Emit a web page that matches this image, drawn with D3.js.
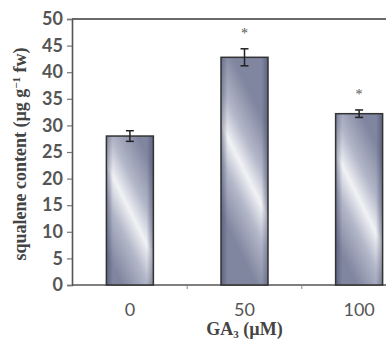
<!DOCTYPE html>
<html>
<head>
<meta charset="utf-8">
<script src="https://cdn.jsdelivr.net/npm/d3@7"></script>
<style>
  body { margin: 0; background: #fff; }
</style>
</head>
<body>
<div id="chart"></div>
<script>
var categories = ["0", "50", "100"]
var values = [28.0, 42.8, 32.2]
var errors = [1.0, 1.6, 0.7]
var marks = ["", "*", "*"]
var yTicks = [0, 5, 10, 15, 20, 25, 30, 35, 40, 45, 50]

var margin = { left: 72, top: 19 }
var plotWidth = 345
var plotHeight = 266

var svg = d3.select("#chart")
  .append("svg")
  .attr("width", 386)
  .attr("height", 339)

var defs = svg.append("defs")

// darker vertical edges
var edge = defs.append("linearGradient")
  .attr("id", "barEdge")
  .attr("x1", 0).attr("y1", 0)
  .attr("x2", 1).attr("y2", 0)
edge.append("stop").attr("offset", 0).attr("stop-color", "#3c4262").attr("stop-opacity", 0.5)
edge.append("stop").attr("offset", 0.14).attr("stop-color", "#3c4262").attr("stop-opacity", 0)
edge.append("stop").attr("offset", 0.86).attr("stop-color", "#3c4262").attr("stop-opacity", 0)
edge.append("stop").attr("offset", 1).attr("stop-color", "#3c4262").attr("stop-opacity", 0.5)

var g = svg.append("g")
  .attr("transform", "translate(" + margin.left + "," + margin.top + ")")

var x = d3.scaleBand()
  .domain(categories)
  .range([0, plotWidth])
  .paddingInner(0.59)
  .paddingOuter(0.3)

var y = d3.scaleLinear()
  .domain([0, 50])
  .range([plotHeight, 0])

// one diagonal gradient per bar: light streak from upper left to lower right
var nx = 1 / Math.sqrt(1.25), ny = -0.5 / Math.sqrt(1.25), L = 40
values.forEach(function(v, i) {
  var cx = x(categories[i]) + x.bandwidth() / 2
  var cy = (y(v) + plotHeight) / 2
  var gr = defs.append("linearGradient")
    .attr("id", "barFill" + i)
    .attr("gradientUnits", "userSpaceOnUse")
    .attr("x1", cx - nx * L).attr("y1", cy - ny * L)
    .attr("x2", cx + nx * L).attr("y2", cy + ny * L)
  gr.append("stop").attr("offset", 0).attr("stop-color", "#80869f")
  gr.append("stop").attr("offset", 0.3).attr("stop-color", "#b3b7c9")
  gr.append("stop").attr("offset", 0.5).attr("stop-color", "#f1f2f5")
  gr.append("stop").attr("offset", 0.7).attr("stop-color", "#b3b7c9")
  gr.append("stop").attr("offset", 1).attr("stop-color", "#80869f")
})

// top frame line
g.append("line")
  .attr("x1", 0).attr("x2", 400)
  .attr("y1", 0).attr("y2", 0)
  .attr("stroke", "#6a6a6a")
  .attr("stroke-width", 2)

// y axis
var yAxis = g.append("g")
  .call(d3.axisLeft(y).tickValues(yTicks).tickSize(5).tickPadding(4))
yAxis.select(".domain").attr("stroke", "#555").attr("stroke-width", 1.6)
yAxis.selectAll(".tick line").attr("stroke", "#777").attr("stroke-width", 1.2)
yAxis.selectAll("text")
  .attr("font-family", "Lato, 'Open Sans', sans-serif")
  .attr("font-weight", "bold")
  .attr("font-size", 18)
  .attr("fill", "#555")

// x axis line and ticks between categories
g.append("line")
  .attr("x1", 0).attr("x2", 400)
  .attr("y1", plotHeight).attr("y2", plotHeight)
  .attr("stroke", "#555")
  .attr("stroke-width", 1.6)
categories.slice(1).forEach(function(c) {
  var tx = x(c) - (x.step() - x.bandwidth()) / 2
  g.append("line")
    .attr("x1", tx).attr("x2", tx)
    .attr("y1", plotHeight).attr("y2", plotHeight + 4)
    .attr("stroke", "#888")
    .attr("stroke-width", 1)
})

g.selectAll(".xlab")
  .data(categories)
  .enter()
  .append("text")
  .attr("x", function(d) { return x(d) + x.bandwidth() / 2 })
  .attr("y", 297)
  .attr("text-anchor", "middle")
  .attr("font-family", "Lato, 'Open Sans', sans-serif")
  .attr("font-size", 18)
  .attr("fill", "#555")
  .text(function(d) { return d })

// bars
var bars = g.selectAll(".bar")
  .data(values)
  .enter()
  .append("g")
bars.append("rect")
  .attr("x", function(d, i) { return x(categories[i]) })
  .attr("y", function(d) { return y(d) })
  .attr("width", x.bandwidth())
  .attr("height", function(d) { return plotHeight - y(d) })
  .attr("fill", function(d, i) { return "url(#barFill" + i + ")" })
bars.append("rect")
  .attr("x", function(d, i) { return x(categories[i]) })
  .attr("y", function(d) { return y(d) })
  .attr("width", x.bandwidth())
  .attr("height", function(d) { return plotHeight - y(d) })
  .attr("fill", "url(#barEdge)")
  .attr("stroke", "#333")
  .attr("stroke-width", 1.5)

// error bars
values.forEach(function(v, i) {
  var cx = x(categories[i]) + x.bandwidth() / 2
  var eb = g.append("g").attr("stroke", "#222").attr("stroke-width", 1.5)
  eb.append("line")
    .attr("x1", cx).attr("x2", cx)
    .attr("y1", y(v - errors[i])).attr("y2", y(v + errors[i]))
  eb.append("line")
    .attr("x1", cx - 4).attr("x2", cx + 4)
    .attr("y1", y(v + errors[i])).attr("y2", y(v + errors[i]))
  eb.append("line")
    .attr("x1", cx - 4).attr("x2", cx + 4)
    .attr("y1", y(v - errors[i])).attr("y2", y(v - errors[i]))
  if (marks[i]) {
    g.append("text")
      .attr("x", cx)
      .attr("y", y(v + errors[i]) - 11)
      .attr("text-anchor", "middle")
      .attr("font-family", "'Liberation Serif', serif")
      .attr("font-size", 14)
      .attr("fill", "#555")
      .text(marks[i])
  }
})

// axis titles
svg.append("text")
  .attr("x", margin.left + x("50") + x.bandwidth() / 2)
  .attr("y", 335)
  .attr("text-anchor", "middle")
  .attr("font-family", "'Liberation Serif', serif")
  .attr("font-weight", "bold")
  .attr("font-size", 18)
  .attr("fill", "#444")
  .html("GA<tspan font-size='11' dy='3'>3</tspan><tspan dy='-3'> (µM)</tspan>")

svg.append("text")
  .attr("transform", "translate(26,154) rotate(-90)")
  .attr("text-anchor", "middle")
  .attr("font-family", "'Liberation Serif', serif")
  .attr("font-weight", "bold")
  .attr("font-size", 18)
  .attr("fill", "#444")
  .html("squalene content (µg g<tspan font-size='11' dy='-6'>−1</tspan><tspan dy='6'> fw)</tspan>")
</script>
</body>
</html>
